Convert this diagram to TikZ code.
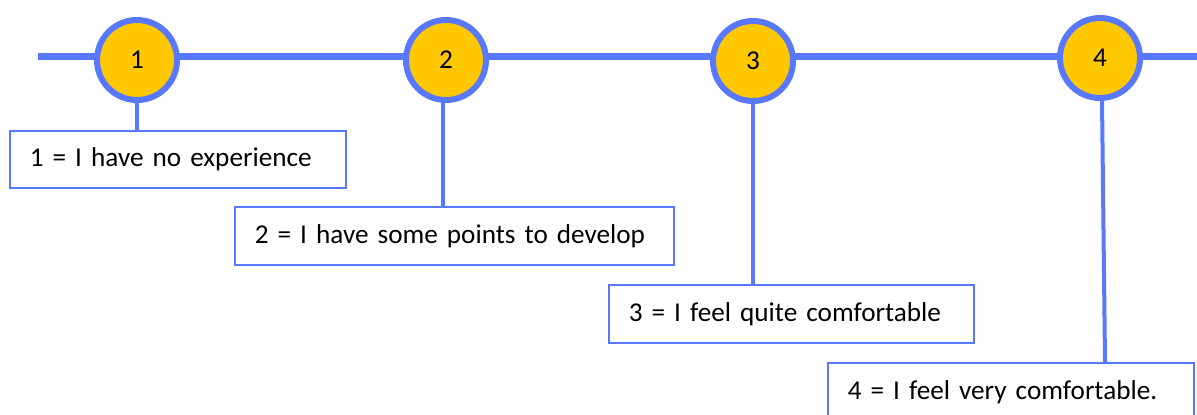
\documentclass[tikz,border=0pt]{standalone}
\usepackage{fontspec}
\setmainfont{Carlito}
\usetikzlibrary{positioning}

\definecolor{scaleblue}{RGB}{88,120,255}
\definecolor{scalegold}{RGB}{255,200,0}

\begin{document}
\begin{tikzpicture}[
    x=0.5pt, y=-0.5pt,
    font=\fontsize{13.6}{16}\selectfont,
    level/.style={circle, draw=scaleblue, line width=3pt, fill=scalegold, minimum size=40pt, inner sep=0pt},
    stem/.style={draw=scaleblue, line width=2pt},
    answer/.style={draw=scaleblue, line width=0.75pt, fill=white, anchor=north west, inner xsep=10pt, align=left},
  ]
  \useasboundingbox (0,0) rectangle (1197,414);
  \clip (0,0) rectangle (1197,414);

  % the scale line
  \coordinate (lineL) at (38,56);
  \coordinate (lineR) at (1197,56);
  \draw[scaleblue, line width=3.5pt] (lineL) -- (lineR);

  % levels
  \node[level] (n1) at (137,60) {1};
  \node[level] (n2) at (446,60) {2};
  \node[level] (n3) at (753,61) {3};
  \node[level] (n4) at (1100,58) {4};

  % what each level means
  \node[answer, text width=148pt, minimum height=28.5pt] (b1) at (9,130) {\mbox{1 = I have no experience}};
  \node[answer, text width=199.5pt, minimum height=29pt] (b2) at (234,206) {\mbox{2 = I have some points to develop}};
  \node[answer, text width=162.5pt, minimum height=29pt] (b3) at (608,284) {\mbox{3 = I feel quite comfortable}};
  \node[answer, text width=163pt, minimum height=29pt] (b4) at (827,362) {\mbox{4 = I feel very comfortable.}};

  \draw[stem] (n1.south) -- (n1.south |- b1.north);
  \draw[stem] ([xshift=-1.5pt]n2.south) -- ([xshift=-1.5pt]n2.south |- b2.north);
  \draw[stem] (n3.south) -- (n3.south |- b3.north);
  \draw[stem] ([xshift=1pt]n4.south) -- ([xshift=2.5pt]n4.south |- b4.north);
\end{tikzpicture}
\end{document}
